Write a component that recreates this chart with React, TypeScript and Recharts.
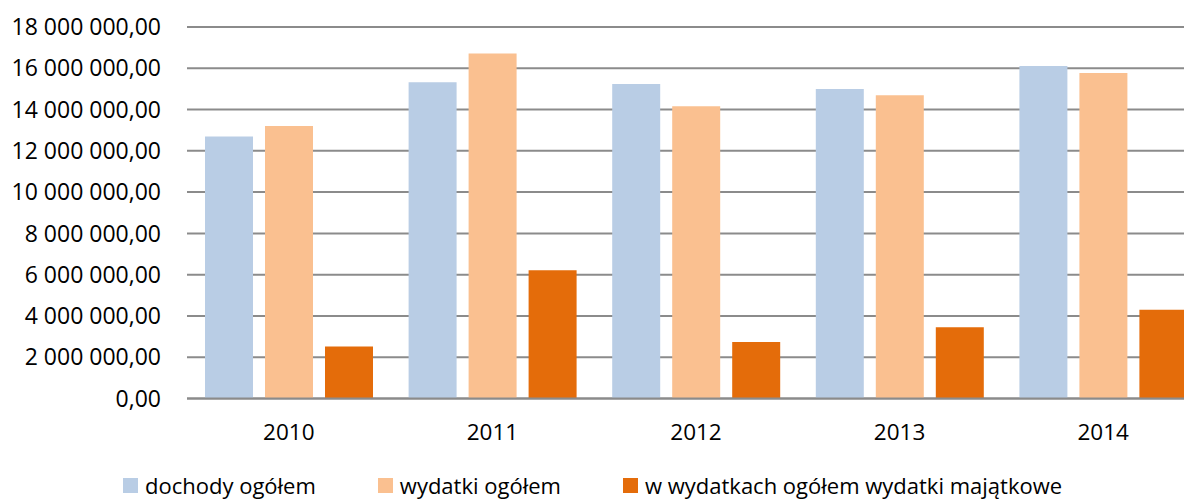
import React from "react";
import { BarChart, Bar, XAxis, YAxis, CartesianGrid } from "recharts";

const years = ["2010", "2011", "2012", "2013", "2014"];
const dochody = [12690000, 15320000, 15240000, 14990000, 16110000];
const wydatki = [13200000, 16720000, 14160000, 14690000, 15770000];
const majatkowe = [2520000, 6210000, 2740000, 3450000, 4300000];
const yTicks = [0, 2000000, 4000000, 6000000, 8000000, 10000000, 12000000, 14000000, 16000000, 18000000];
const seriesNames = ["dochody ogółem", "wydatki ogółem", "w wydatkach ogółem wydatki majątkowe"];
const colors = ["#B9CDE5", "#FAC090", "#E46C0A"];

const data = years.map((y, i) => ({
  year: y,
  dochody: dochody[i],
  wydatki: wydatki[i],
  majatkowe: majatkowe[i],
}));

const fmt = (v: number) => {
  const s = Math.round(v).toString().replace(/\B(?=(\d{3})+(?!\d))/g, " ");
  return s + ",00";
};

const FONT = "'Open Sans', sans-serif";

export default function App() {
  return (
    <div style={{ position: "relative", width: 1184, height: 493, overflow: "hidden", fontFamily: FONT }}>
      <BarChart
        width={1197}
        height={440}
        data={data}
        margin={{ top: 19, right: 0, bottom: 0, left: 0 }}
        barGap={12}
        barSize={48}
      >
        <CartesianGrid vertical={false} stroke="#8b8b8b" strokeWidth={2} />
        <XAxis
          dataKey="year"
          height={49.5}
          tickLine={false}
          tickSize={0}
          tickMargin={26}
          axisLine={{ stroke: "#8b8b8b", strokeWidth: 2 }}
          tick={{ fill: "#000", fontSize: 22.5, fontFamily: FONT }}
        />
        <YAxis
          width={179}
          domain={[0, 18000000]}
          ticks={yTicks}
          interval={0}
          axisLine={false}
          tickLine={false}
          tickSize={0}
          tickMargin={26}
          tickFormatter={fmt}
          tick={{ fill: "#000", fontSize: 23, fontFamily: FONT }}
        />
        <Bar dataKey="dochody" fill={colors[0]} isAnimationActive={false} />
        <Bar dataKey="wydatki" fill={colors[1]} isAnimationActive={false} />
        <Bar dataKey="majatkowe" fill={colors[2]} isAnimationActive={false} />
      </BarChart>
      <div
        style={{
          position: "absolute",
          top: 466,
          left: 115,
          display: "flex",
          alignItems: "center",
          fontSize: 22,
          color: "#000",
          lineHeight: "22px",
          whiteSpace: "nowrap",
        }}
      >
        {seriesNames.map((n, i) => (
          <div key={n} style={{ display: "flex", alignItems: "center", marginRight: 62 }}>
            <span style={{ display: "inline-block", width: 15, height: 15, background: colors[i], marginRight: 7 }} />
            <span>{n}</span>
          </div>
        ))}
      </div>
    </div>
  );
}
